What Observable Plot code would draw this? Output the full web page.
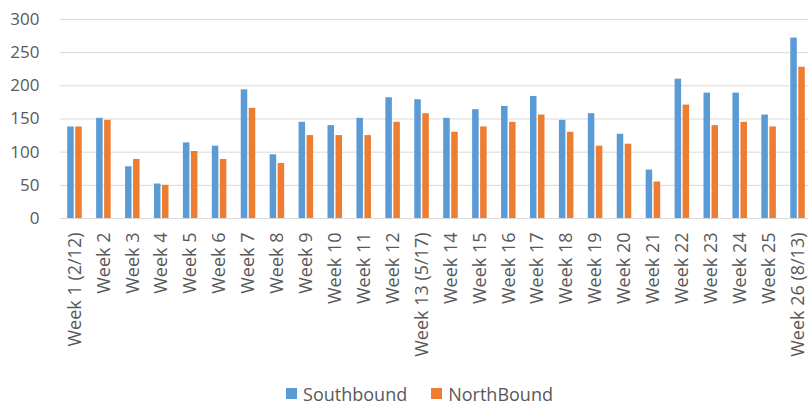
<!DOCTYPE html>
<html>
<head>
<meta charset="utf-8">
<script src="https://cdn.jsdelivr.net/npm/d3@7"></script>
<script src="https://cdn.jsdelivr.net/npm/@observablehq/plot@0.6"></script>
<style>
  html, body { margin: 0; padding: 0; background: #fff; }
  body { width: 808px; height: 405px; overflow: hidden; font-family: "Open Sans", sans-serif; }
  #chart svg { display: block; }
  #legend { box-sizing: border-box; display: flex; justify-content: center; align-items: center; padding-left: 31px; padding-top: 10px; height: 33px; line-height: 24px; color: #595959; font-size: 18px; }
  #legend .item { display: flex; align-items: center; margin: 0 12px; }
  #legend .sw { width: 11px; height: 11px; margin-right: 6px; }
</style>
</head>
<body>
<div id="chart"></div>
<div id="legend"></div>
<script>
const weeks = ["Week 1 (2/12)", "Week 2", "Week 3", "Week 4", "Week 5", "Week 6", "Week 7", "Week 8", "Week 9", "Week 10", "Week 11", "Week 12", "Week 13 (5/17)", "Week 14", "Week 15", "Week 16", "Week 17", "Week 18", "Week 19", "Week 20", "Week 21", "Week 22", "Week 23", "Week 24", "Week 25", "Week 26 (8/13)"];
const southbound = [138, 151, 78, 52, 114, 109, 194, 96, 145, 140, 151, 182, 179, 151, 164, 169, 184, 148, 158, 127, 73, 210, 189, 189, 156, 272];
const northbound = [138, 148, 89, 50, 101, 89, 166, 83, 125, 125, 125, 145, 158, 130, 138, 145, 156, 130, 109, 112, 55, 171, 140, 145, 138, 228];
const seriesNames = ["Southbound", "NorthBound"];
const seriesColors = ["#5b9bd5", "#ed7d31"];
const yTicks = [0, 50, 100, 150, 200, 250, 300];

const sbRows = weeks.map((w, i) => ({week: w, value: southbound[i]}));
const nbRows = weeks.map((w, i) => ({week: w, value: northbound[i]}));

const chart = Plot.plot({
  width: 808,
  height: 372,
  marginLeft: 60,
  marginRight: 0,
  marginTop: 19,
  marginBottom: 154,
  style: {fontFamily: "Open Sans, sans-serif", fontSize: "16px", color: "#595959", background: "#fff"},
  x: {domain: weeks, range: [60, 812], padding: 0, round: false, label: null},
  y: {domain: [0, 300], label: null},
  marks: [
    Plot.ruleY(yTicks, {stroke: "#d9d9d9", strokeWidth: 1}),
    Plot.barY(sbRows, {x: "week", y: "value", fill: seriesColors[0], insetLeft: 7.2, insetRight: 15.2}),
    Plot.barY(nbRows, {x: "week", y: "value", fill: seriesColors[1], insetLeft: 15.2, insetRight: 7.2}),
    Plot.axisY(yTicks, {tickSize: 0, tickPadding: 21, label: null, fontSize: 17, fill: "#595959"}),
    Plot.axisX({anchor: "bottom", tickRotate: -90, tickSize: 0, tickPadding: 14, label: null, fontSize: 18, fill: "#595959"})
  ]
});
document.getElementById("chart").appendChild(chart);

const legend = document.getElementById("legend");
seriesNames.forEach((name, i) => {
  const item = document.createElement("div");
  item.className = "item";
  const sw = document.createElement("div");
  sw.className = "sw";
  sw.style.background = seriesColors[i];
  const label = document.createElement("span");
  label.textContent = name;
  item.appendChild(sw);
  item.appendChild(label);
  legend.appendChild(item);
});
</script>
</body>
</html>
